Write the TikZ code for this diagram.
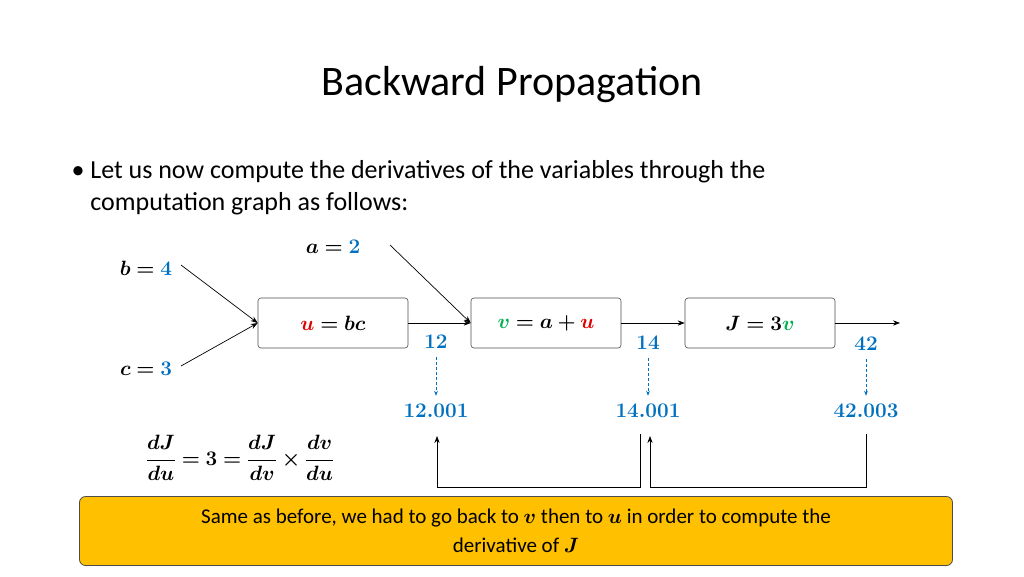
\documentclass[tikz,border=0pt]{standalone}
\usepackage{amsmath,bm}
\usepackage{fontspec}
\setmainfont{Carlito}
\usetikzlibrary{arrows.meta}
\definecolor{myblue}{HTML}{0070C0}
\definecolor{myred}{HTML}{E00000}
\definecolor{mygreen}{HTML}{00B050}
\definecolor{myyellow}{HTML}{FFC000}
\begin{document}
\begin{tikzpicture}[x=1pt,y=-1pt,
  opbox/.style={draw=black!70,rounded corners=3pt,minimum width=150pt,minimum height=50pt,line width=0.6pt,font=\fontsize{21}{25}\selectfont},
  lab/.style={font=\fontsize{21}{25}\selectfont},
  num/.style={font=\fontsize{21}{25}\selectfont,text=myblue},
  conn/.style={-{Stealth[length=7pt]},line width=0.7pt},
  dasharrow/.style={-{Stealth[length=5pt]},densely dashed,myblue,line width=0.7pt,shorten <=5pt,shorten >=5pt}]
\useasboundingbox (0,0) rectangle (1024,576);
\node[font=\fontsize{42}{48}\selectfont] (title) at (512,85) {Backward Propagation};
\node[anchor=west,font=\fontsize{26}{32}\selectfont,align=left] (bul) at (68,188) {\textbullet\ Let us now compute the derivatives of the variables through the\\ \phantom{\textbullet\ }computation graph as follows:};
\node[opbox] (u) at (333,323) {$\bm{{\color{myred}u}=bc}$};
\node[opbox] (v) at (546,323) {$\bm{{\color{mygreen}v}=a+{\color{myred}u}}$};
\node[opbox] (J) at (760,323) {$\bm{J=3{\color{mygreen}v}}$};
\node[lab] (b) at (146,268) {$\bm{b={\color{myblue}4}}$};
\node[lab] (c) at (146,369) {$\bm{c={\color{myblue}3}}$};
\node[lab] (a) at (333,247) {$\bm{a={\color{myblue}2}}$};
\coordinate (out) at (900,323);
\coordinate (bs) at (181,265);
\coordinate (cs) at (181,366);
\coordinate (as) at (390,245);
\draw[conn] (bs) -- (u.west);
\draw[conn] (cs) -- (u.west);
\draw[conn] (as) -- (v.west);
\draw[conn] (u) -- (v);
\draw[conn] (v) -- (J);
\draw[conn] (J) -- (out);
\node[num] (n12) at (436,342) {$\bm{12}$};
\node[num] (n14) at (648,343) {$\bm{14}$};
\node[num] (n42) at (866,344) {$\bm{42}$};
\node[num] (m12) at (436,411) {$\bm{12.001}$};
\node[num] (m14) at (648,411) {$\bm{14.001}$};
\node[num] (m42) at (866,411) {$\bm{42.003}$};
\draw[dasharrow] (n12.south) -- (m12.north);
\draw[dasharrow] (n14.south) -- (m14.north);
\draw[dasharrow] (n42.south) -- (m42.north);
\coordinate (p1) at (866,434);
\coordinate (p2) at (640,434);
\draw[line width=0.7pt,-{Stealth[length=7pt]}] (p1) -- (866,487) -- (650,487) -- (650,436);
\draw[line width=0.7pt,-{Stealth[length=7pt]}] (p2) -- (640,487) -- (437,487) -- (437,436);
\node[font=\fontsize{21}{25}\selectfont] (eq) at (240,458) {$\displaystyle\bm{\frac{dJ}{du}=3=\frac{dJ}{dv}\times\frac{dv}{du}}$};
\node[draw=black!70,fill=myyellow,rounded corners=6pt,minimum width=873pt,minimum height=69pt,line width=0.8pt,align=center,font=\fontsize{21}{29}\selectfont] (note) at (516,531)
 {Same as before, we had to go back to $\bm v$ then to $\bm u$ in order to compute the\\ derivative of $\bm J$};
\end{tikzpicture}
\end{document}
